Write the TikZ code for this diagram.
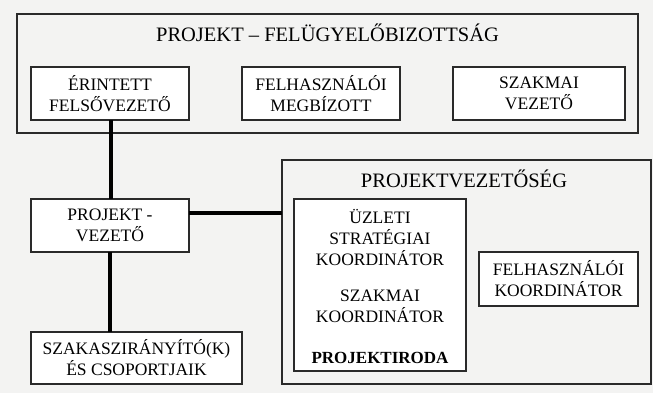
\documentclass[tikz,border=0pt]{standalone}
\usepackage{fontspec}
\setmainfont{Liberation Serif}
\usetikzlibrary{calc}
\definecolor{pagebg}{HTML}{F3F3F2}
\definecolor{edge}{HTML}{2A2A2A}
\begin{document}
\begin{tikzpicture}[x=1pt,y=-1pt,
  every node/.style={inner sep=0pt, outer sep=0pt},
  group/.style={draw=edge, line width=1.5pt, fill=pagebg},
  unit/.style={draw=edge, line width=1.5pt, fill=white, align=center,
    font=\fontsize{17.5}{21}\selectfont},
  heading/.style={font=\fontsize{20.5}{24}\selectfont},
  label/.style={align=center, font=\fontsize{17.5}{21}\selectfont},
  link/.style={line width=3.2pt, black}]
  \fill[pagebg] (0,0) rectangle (653,393);
  \useasboundingbox (0,0) rectangle (653,393);

  % steering committee
  \node[group, minimum width=621, minimum height=119] (board) at (327.5,73.5) {};
  \node[heading] (boardtitle) at (327.5,33) {PROJEKT – FELÜGYELŐBIZOTTSÁG};
  \node[unit, minimum width=158, minimum height=53] (exec) at (110,93.5)
    {ÉRINTETT\\FELSŐVEZETŐ};
  \node[unit, minimum width=158, minimum height=53] (user) at (321,93.5)
    {FELHASZNÁLÓI\\MEGBÍZOTT};
  \node[unit, minimum width=172, minimum height=53] (supplier) at (539,93.5)
    {SZAKMAI\\VEZETŐ};

  % project manager and team managers
  \node[unit, minimum width=158, minimum height=53] (pm) at (110,225.5)
    {PROJEKT -\\VEZETŐ};
  \node[unit, minimum width=211, minimum height=52] (teams) at (136.5,358)
    {SZAKASZIRÁNYÍTÓ(K)\\ÉS CSOPORTJAIK};

  % project management team
  \node[group, minimum width=369, minimum height=224] (mgmt) at (466.5,272) {};
  \node[heading] (mgmttitle) at (464,179) {PROJEKTVEZETŐSÉG};
  \node[unit, minimum width=172, minimum height=172] (office) at (380,285) {};
  \node[label] (bizcoord) at (380,237) {ÜZLETI\\STRATÉGIAI\\KOORDINÁTOR};
  \node[label] (techcoord) at (380,306) {SZAKMAI\\KOORDINÁTOR};
  \node[label, font=\fontsize{17}{21}\selectfont\bfseries] (officetitle) at (380,358) {PROJEKTIRODA};
  \node[unit, minimum width=159, minimum height=54] (usercoord) at (558.5,279)
    {FELHASZNÁLÓI\\KOORDINÁTOR};

  % connectors
  \draw[link] (exec.south -| 111,0) -- (pm.north -| 111,0);
  \draw[link] (pm.south -| 110,0) -- (teams.north -| 110,0);
  \draw[link] (pm.east |- 0,213) -- (mgmt.west |- 0,213);
\end{tikzpicture}
\end{document}
